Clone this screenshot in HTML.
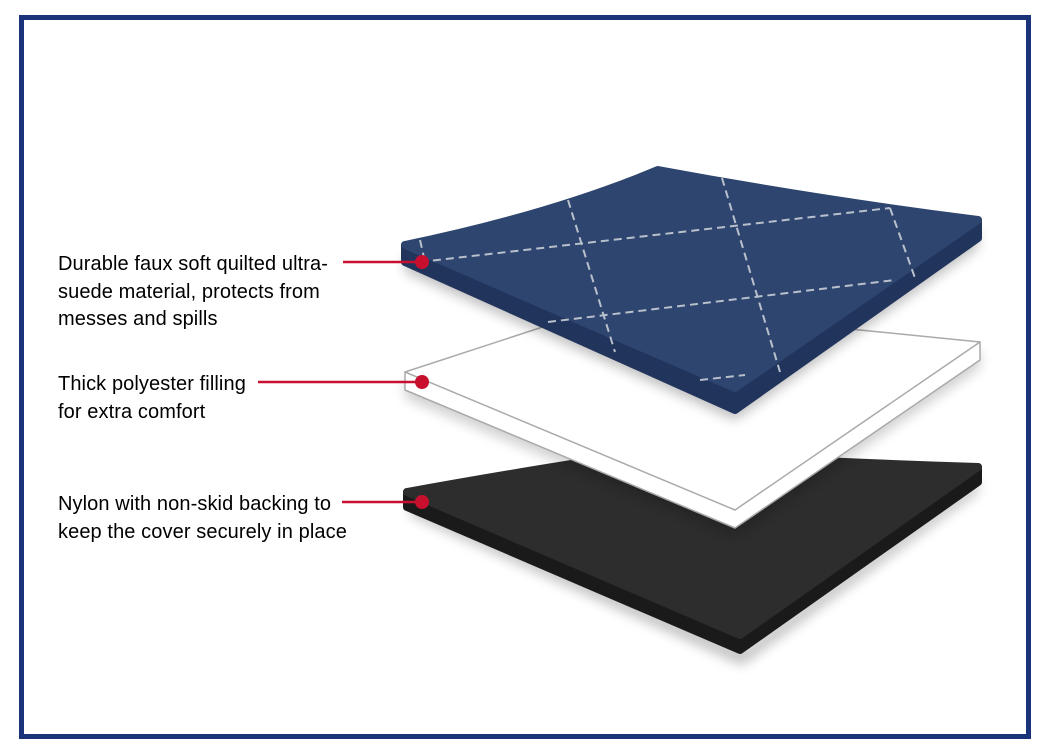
<!DOCTYPE html>
<html><head><meta charset="utf-8"><style>
html,body{margin:0;padding:0;background:#fff;}
body{width:1050px;height:750px;position:relative;overflow:hidden;}
.frame{position:absolute;left:19px;top:15px;width:1002px;height:714px;border:5px solid #1b3479;}
.t{position:absolute;left:58px;font-family:"Liberation Sans",sans-serif;font-size:20px;line-height:27.5px;color:#000;letter-spacing:0.1px;}
</style></head><body>
<div class="frame"></div>
<svg width="1050" height="750" style="position:absolute;left:0;top:0">
<defs>
<filter id="sh" x="-10%" y="-10%" width="120%" height="130%"><feGaussianBlur stdDeviation="6"/></filter>
</defs>
<!-- black layer -->
<polygon points="410,505 742,655 978,482 978,470 742,640 410,492" fill="#000" opacity="0.25" filter="url(#sh)" transform="translate(0,10)"/>
<polygon points="407,492 407,507 740,650 978,482 978,467" fill="#1a1a1a" stroke="#1a1a1a" stroke-width="8" stroke-linejoin="round"/>
<path d="M407,492 Q540,468 650,452 Q820,462 978,467 L740,635 Z" fill="#2d2d2d" stroke="#2d2d2d" stroke-width="8" stroke-linejoin="round"/>
<!-- white layer -->
<polygon points="405,372 405,390 735,528 980,360 980,342" fill="#000" opacity="0.18" filter="url(#sh)" transform="translate(0,8)"/>
<polygon points="405,372 405,390 735,528 980,360 980,342" fill="#fff" stroke="#aaa" stroke-width="1.5" stroke-linejoin="round"/>
<polygon points="405,372 610,305 980,342 735,510" fill="#fff" stroke="#aaa" stroke-width="1.5" stroke-linejoin="round"/>
<!-- blue layer -->
<polygon points="405,245 405,262 735,410 978,238 978,220" fill="#000" opacity="0.25" filter="url(#sh)" transform="translate(0,10)"/>
<polygon points="405,245 405,262 735,410 978,238 978,220" fill="#21345c" stroke="#21345c" stroke-width="8" stroke-linejoin="round"/>
<path d="M405,245 Q550,215 658,170 Q820,200 978,220 L735,388 Z" fill="#2e456f" stroke="#2e456f" stroke-width="8" stroke-linejoin="round"/>
<g stroke="#b8c0cc" stroke-width="2" stroke-dasharray="8,5" fill="none">
<line x1="420" y1="262" x2="890" y2="208"/>
<line x1="548" y1="322" x2="895" y2="280"/>
<line x1="700" y1="380" x2="745" y2="375"/>
<line x1="420" y1="240" x2="425" y2="262"/>
<line x1="568" y1="200" x2="615" y2="352"/>
<line x1="722" y1="178" x2="780" y2="372"/>
<line x1="890" y1="208" x2="915" y2="278"/>
</g>
<!-- callouts -->
<g stroke="#c8102e" stroke-width="2.5">
<line x1="343" y1="262" x2="422" y2="262"/>
<line x1="258" y1="382" x2="422" y2="382"/>
<line x1="342" y1="502" x2="422" y2="502"/>
</g>
<g fill="#c8102e">
<circle cx="422" cy="262" r="7"/>
<circle cx="422" cy="382" r="7"/>
<circle cx="422" cy="502" r="7"/>
</g>
</svg>
<div class="t" style="top:251px">Durable faux soft quilted ultra-<br>suede material, protects from<br>messes and spills</div>
<div class="t" style="top:371px">Thick polyester filling<br>for extra comfort</div>
<div class="t" style="top:491px">Nylon with non-skid backing to<br>keep the cover securely in place</div>
</body></html>
